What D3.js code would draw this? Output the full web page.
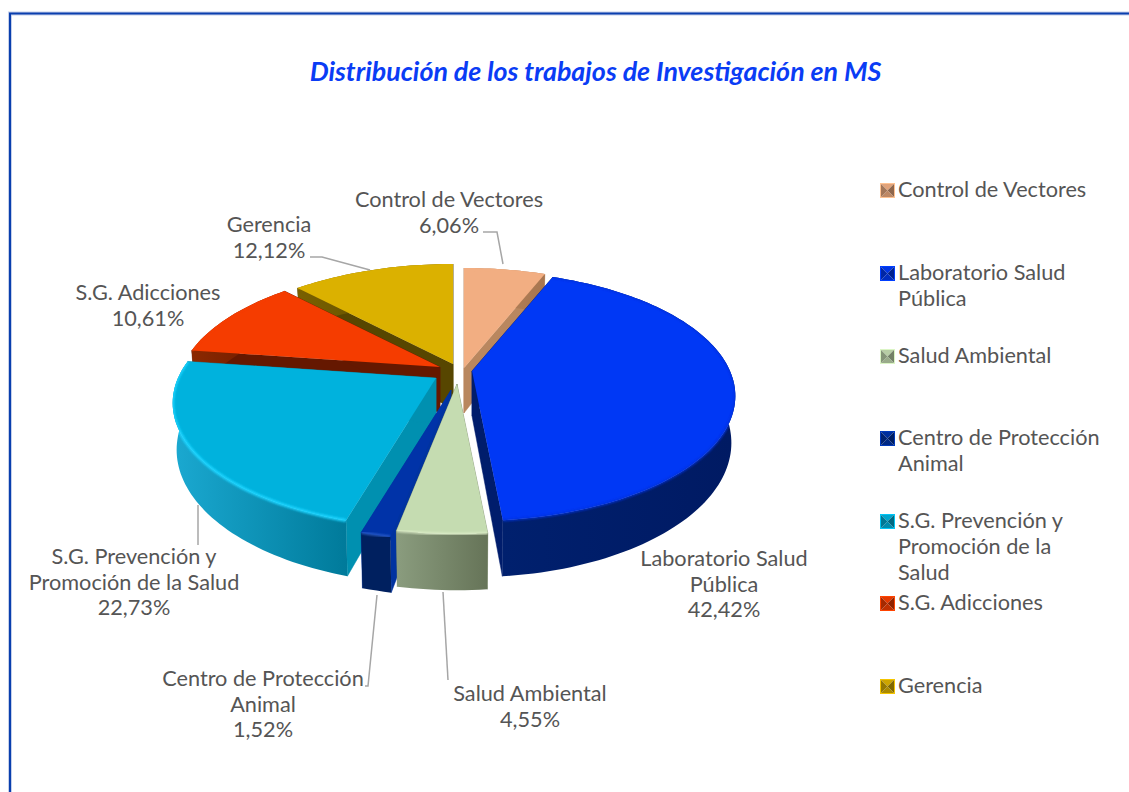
<!DOCTYPE html>
<html>
<head>
<meta charset="utf-8">
<script src="https://cdnjs.cloudflare.com/ajax/libs/d3/7.8.5/d3.min.js"></script>
<style>
  html, body { margin: 0; padding: 0; background: #fff; }
  svg { display: block; font-family: Lato, "Open Sans", sans-serif; }
  .lbl { fill: #555; font-size: 21.7px; }
  .leader { fill: none; stroke: #a6a6a6; stroke-width: 1.5px; }
</style>
</head>
<body>
<svg id="chart" width="1129" height="792"></svg>
<script>
var categories = ["Control de Vectores", "Laboratorio Salud Pública", "Salud Ambiental", "Centro de Protección Animal", "S.G. Prevención y Promoción de la Salud", "S.G. Adicciones", "Gerencia"];
var percents = [6.06, 42.42, 4.55, 1.52, 22.73, 10.61, 12.12];

// chart wraps the names by hand
var labelLines = [["Control de Vectores"], ["Laboratorio Salud", "Pública"], ["Salud Ambiental"], ["Centro de Protección", "Animal"], ["S.G. Prevención y", "Promoción de la Salud"], ["S.G. Adicciones"], ["Gerencia"]];
var legendLines = [["Control de Vectores"], ["Laboratorio Salud", "Pública"], ["Salud Ambiental"], ["Centro de Protección", "Animal"], ["S.G. Prevención y", "Promoción de la", "Salud"], ["S.G. Adicciones"], ["Gerencia"]];

// colours: top, cut face, outer wall left/right, rim
var topColors = ["#f2ae82", "#0038f5", "#c5dcb1", "#0033a8", "#00b2dd", "#f53c00", "#dbb100"];
var cutColors = ["#b9875f", "#001d6c", "#7d8c6c", "#0033a0", "#0090b0", "#651800", "#574600"];
var wallLeft = ["#b9875f", "#00206e", "#8a9c7e", "#00205f", "#1aa8d0", "#8a2800", "#786000"];
var wallRight = ["#a87650", "#001a63", "#667458", "#00205f", "#007a9a", "#651800", "#574600"];
var rimColors = ["#f2ae82", "#0030d8", "#e0f0cc", "#2f62d0", "#1fd4ff", "#f53c00", "#dbb100"];

// where each exploded slice has its tip
var apexX = [464, 472, 457, 451, 436, 440, 453];
var apexY = [368, 371, 384, 390, 378, 367, 364];
var drawOrder = [0, 6, 5, 4, 3, 2, 1];

var labelX = [449, 724, 530, 263, 134, 148, 269];
var labelY = [207, 566, 701, 686, 564, 300, 232];

var leaders = [
  [[483, 232], [497, 232], [503, 264]],
  [[443, 592], [448, 680]],
  [[365, 686], [368, 686], [377, 595]],
  [[198, 505], [198, 545]],
  [[310, 257], [322, 257], [370, 270]]
];

var legendY = [197, 280, 363, 445, 528, 610, 693];

var rx = 258, ry = 120, persp = 0.2, depth = 45, bottomShrink = 0.985;

var svg = d3.select("#chart");
var defs = svg.append("defs");

defs.append("filter").attr("id", "soft").attr("x", "-5%").attr("y", "-5%").attr("width", "110%").attr("height", "110%")
  .append("feGaussianBlur").attr("stdDeviation", 0.8);

// frame
svg.append("path").attr("d", "M10,792V13.5H1129").attr("fill", "none").attr("stroke", "#c5cfea").attr("stroke-width", 4);
svg.append("path").attr("d", "M10,792V13.5H1129").attr("fill", "none").attr("stroke", "#0a3fae").attr("stroke-width", 2);

svg.append("text").attr("x", 595.5).attr("y", 81).attr("text-anchor", "middle")
  .style("font-size", "26.8px").style("font-weight", 700).style("font-style", "italic")
  .attr("fill", "#0a3cf5").text("Distribución de los trabajos de Investigación en MS");

var arcs = d3.pie().sort(null).value(function(d) { return d; })(percents);

function project(i, theta, down) {
  var c = Math.cos(theta), s = 1 / (1 + persp * c);
  return [
    apexX[i] + rx * Math.sin(theta) * s * (down ? bottomShrink : 1),
    apexY[i] - ry * c * s + (down ? depth * s : 0)
  ];
}

function rimPoints(i, down) {
  var a = arcs[i], n = Math.max(4, Math.ceil((a.endAngle - a.startAngle) * 40));
  return d3.range(n + 1).map(function(k) {
    return project(i, a.startAngle + (a.endAngle - a.startAngle) * k / n, down);
  });
}

var line = d3.line();
var slices = svg.append("g");

drawOrder.forEach(function(i) {
  var a = arcs[i], g = slices.append("g");
  var tipTop = [apexX[i], apexY[i]], tipBot = [apexX[i], apexY[i] + depth];
  var top = rimPoints(i, false), bot = rimPoints(i, true);
  var topPath = line([tipTop].concat(top)) + "Z";
  var wallPath = line(top.concat(bot.slice().reverse())) + "Z";

  [a.startAngle, a.endAngle].forEach(function(t) {
    var p = project(i, t, false), q = project(i, t, true);
    g.append("path").attr("d", line([tipTop, p, q, tipBot]) + "Z").attr("fill", cutColors[i]).attr("stroke", cutColors[i]).attr("stroke-width", 0.5);
  });

  var xs = d3.extent(bot, function(d) { return d[0]; });
  var grad = defs.append("linearGradient").attr("id", "wall" + i)
    .attr("gradientUnits", "userSpaceOnUse")
    .attr("x1", xs[0]).attr("x2", xs[1]).attr("y1", 0).attr("y2", 0);
  grad.append("stop").attr("offset", 0).attr("stop-color", wallLeft[i]);
  grad.append("stop").attr("offset", 1).attr("stop-color", wallRight[i]);

  g.append("path").attr("d", wallPath).attr("fill", "url(#wall" + i + ")");
  g.append("path").attr("d", topPath).attr("fill", topColors[i]);

  // keep the soft rim inside the slice so it does not bleed onto the white
  var clip = defs.append("clipPath").attr("id", "inside" + i);
  clip.append("path").attr("d", topPath);
  clip.append("path").attr("d", wallPath);
  g.append("g").attr("clip-path", "url(#inside" + i + ")")
    .append("path").attr("d", line(top)).attr("fill", "none").attr("stroke", rimColors[i])
    .attr("stroke-width", i === 4 ? 3 : 2).attr("filter", "url(#soft)");
});

// leader lines
svg.append("g").selectAll("path").data(leaders).enter().append("path")
  .attr("class", "leader").attr("d", function(d) { return line(d); });

// data labels
var labels = svg.append("g").selectAll("text").data(categories).enter().append("text")
  .attr("class", "lbl").attr("text-anchor", "middle");
labels.each(function(d, i) {
  var t = d3.select(this);
  labelLines[i].concat(percents[i].toFixed(2).replace(".", ",") + "%").forEach(function(s, k) {
    t.append("tspan").attr("x", labelX[i]).attr("y", labelY[i] + k * 25.5).text(s);
  });
});

// legend with bevelled keys
var legend = svg.append("g").selectAll("g").data(categories).enter().append("g")
  .attr("transform", function(d, i) { return "translate(880," + (legendY[i] - 14) + ")"; });
legend.each(function(d, i) {
  var g = d3.select(this), w = 15, m = [w / 2, w / 2];
  var c = d3.color(topColors[i]);
  g.append("path").attr("d", line([[0, 0], [w, 0], m]) + "Z").attr("fill", c.darker(0.2));
  g.append("path").attr("d", line([[w, 0], [w, w], m]) + "Z").attr("fill", c.darker(1.5));
  g.append("path").attr("d", line([[0, w], [w, w], m]) + "Z").attr("fill", c.darker(0.7));
  g.append("path").attr("d", line([[0, 0], [0, w], m]) + "Z").attr("fill", c.darker(1.1));
  g.append("rect").attr("x", 0.5).attr("y", 0.5).attr("width", w - 1).attr("height", w - 1)
    .attr("fill", "none").attr("stroke", c.brighter(0.3));
  var t = g.append("text").attr("class", "lbl");
  legendLines[i].forEach(function(s, k) {
    t.append("tspan").attr("x", 18).attr("y", 14 + k * 25.8).text(s);
  });
});
</script>
</body>
</html>
